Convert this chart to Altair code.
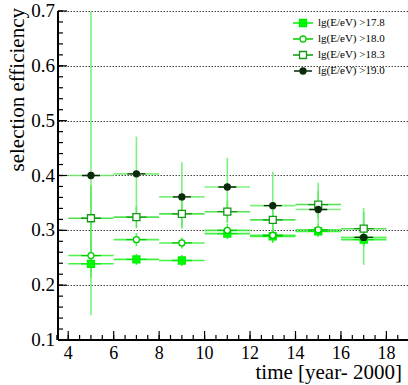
import altair as alt
import pandas as pd

# ---- data ----
years = [5, 7, 9, 11, 13, 15, 17]
half_width = [1, 1, 1, 1, 1, 1, 1]
series_names = ["lg(E/eV) >17.8", "lg(E/eV) >18.0", "lg(E/eV) >18.3", "lg(E/eV) >19.0"]

eff_178 = [0.239, 0.247, 0.245, 0.294, 0.289, 0.298, 0.283]
lo_178 = [0.025, 0.010, 0.010, 0.010, 0.012, 0.010, 0.012]
hi_178 = [0.025, 0.010, 0.010, 0.010, 0.012, 0.010, 0.012]

eff_180 = [0.254, 0.283, 0.277, 0.300, 0.291, 0.301, 0.287]
lo_180 = [0.030, 0.012, 0.010, 0.012, 0.012, 0.010, 0.015]
hi_180 = [0.030, 0.012, 0.010, 0.012, 0.012, 0.010, 0.015]

eff_183 = [0.322, 0.324, 0.330, 0.334, 0.319, 0.347, 0.303]
lo_183 = [0.060, 0.020, 0.025, 0.020, 0.025, 0.025, 0.030]
hi_183 = [0.060, 0.020, 0.025, 0.020, 0.025, 0.025, 0.030]

eff_190 = [0.400, 0.403, 0.361, 0.379, 0.345, 0.338, 0.287]
lo_190 = [0.255, 0.070, 0.058, 0.052, 0.060, 0.050, 0.050]
hi_190 = [0.300, 0.068, 0.063, 0.053, 0.062, 0.049, 0.054]

x_major = [4, 6, 8, 10, 12, 14, 16, 18]
x_labels = ["4", "6", "8", "10", "12", "14", "16", "18"]
x_minor = [3.5 + 0.5 * i for i in range(32)]
y_major = [0.1, 0.2, 0.3, 0.4, 0.5, 0.6, 0.7]
y_labels = ["0.1", "0.2", "0.3", "0.4", "0.5", "0.6", "0.7"]
y_minor = [round(0.1 + 0.02 * i, 2) for i in range(31)]
x_title = "time [year- 2000]"
y_title = "selection efficiency"

rows = []
for name, eff, lo, hi in [
    (series_names[0], eff_178, lo_178, hi_178),
    (series_names[1], eff_180, lo_180, hi_180),
    (series_names[2], eff_183, lo_183, hi_183),
    (series_names[3], eff_190, lo_190, hi_190),
]:
    for x, hw, v, l, h in zip(years, half_width, eff, lo, hi):
        rows.append({"series": name, "bar_series": name + " ", "x": x,
                     "x_lo": x - hw, "x_hi": x + hw,
                     "y": v, "y_lo": max(v - l, 0.1), "y_hi": min(v + h, 0.7)})
df = pd.DataFrame(rows)

W, H = 350, 329
FONT = "Liberation Serif"

bar_names = [n + " " for n in series_names]
line_colors = ["#22ee22", "#33ee33", "#33dd33", "#66ee66"]
stroke_colors = ["#00ee00", "#00cc00", "#119911", "#0a2a0a"]
fill_colors = ["#00ff00", "#ffffff", "#ffffff", "#0a2a0a"]
# symbols (size 100 -> unit = 5px) include a short horizontal line, ROOT-legend style
shapes = [
    "M-2,0H2M-0.7,-0.7H0.7V0.7H-0.7Z",
    "M-2,0H-0.62M0.62,0H2M0.6,0A0.6,0.6,0,1,1,-0.6,0A0.6,0.6,0,1,1,0.6,0Z",
    "M-2,0H-0.7M0.7,0H2M-0.7,-0.7H0.7V0.7H-0.7Z",
    "M-1.8,0H-0.6M0.6,0H1.8M0.6,0A0.6,0.6,0,1,1,-0.6,0A0.6,0.6,0,1,1,0.6,0Z",
]

xscale = alt.Scale(domain=[3.55, 18.95], nice=False, zero=False)
yscale = alt.Scale(domain=[0.1, 0.7], nice=False, zero=False)

base = alt.Chart(df)

color_scale = alt.Scale(domain=bar_names, range=line_colors)

hbars = base.mark_rule(strokeWidth=1.6, opacity=0.85).encode(
    x=alt.X("x_lo:Q", scale=xscale, axis=None),
    x2="x_hi:Q",
    y=alt.Y("y:Q", scale=yscale,
            axis=alt.Axis(title=None, values=y_major, labels=False,
                          ticks=False, domain=False, grid=True,
                          gridColor="#444444", gridDash=[1.5, 1.5], gridWidth=1)),
    color=alt.Color("bar_series:N", scale=color_scale, legend=None),
)

vbars = base.mark_rule(strokeWidth=1.6, opacity=0.85).encode(
    x=alt.X("x:Q", scale=xscale, axis=None),
    y=alt.Y("y_lo:Q", scale=yscale),
    y2="y_hi:Q",
    color=alt.Color("bar_series:N", scale=color_scale, legend=None),
)

leg = alt.Legend(title=None, orient="none", legendX=239, legendY=6, padding=0,
                 symbolSize=100, symbolStrokeWidth=1.3, labelFontSize=11,
                 labelFont=FONT, labelColor="black", labelOffset=9, rowPadding=3)
points = base.mark_point(size=100, filled=False, strokeWidth=1.3, opacity=1).encode(
    x=alt.X("x:Q", scale=xscale, axis=None),
    y=alt.Y("y:Q", scale=yscale),
    shape=alt.Shape("series:N", scale=alt.Scale(domain=series_names, range=shapes),
                    legend=leg),
    stroke=alt.Stroke("series:N", scale=alt.Scale(domain=series_names, range=stroke_colors),
                      legend=leg),
    fill=alt.Fill("series:N", scale=alt.Scale(domain=series_names, range=fill_colors),
                  legend=leg),
)

xt_major = pd.DataFrame({"t": x_major, "lab": x_labels})
xt_minor = pd.DataFrame({"t": x_minor})
yt_major = pd.DataFrame({"t": y_major, "lab": y_labels})
yt_minor = pd.DataFrame({"t": y_minor})

xmaj = alt.Chart(xt_major).mark_rule(color="black", strokeWidth=1.2).encode(
    x=alt.X("t:Q", scale=xscale, axis=None), y=alt.value(H), y2=alt.value(H - 9))
xmin = alt.Chart(xt_minor).mark_rule(color="black", strokeWidth=1.2).encode(
    x=alt.X("t:Q", scale=xscale, axis=None), y=alt.value(H), y2=alt.value(H - 5))
ymaj = alt.Chart(yt_major).mark_rule(color="black", strokeWidth=1.2).encode(
    y=alt.Y("t:Q", scale=yscale), x=alt.value(0), x2=alt.value(9))
ymin = alt.Chart(yt_minor).mark_rule(color="black", strokeWidth=1.2).encode(
    y=alt.Y("t:Q", scale=yscale), x=alt.value(0), x2=alt.value(5))
xaxis_line = alt.Chart(xt_major).mark_rule(color="black", strokeWidth=1.5).encode(
    x=alt.value(0), x2=alt.value(W), y=alt.value(H))
yaxis_line = alt.Chart(xt_major).mark_rule(color="black", strokeWidth=1.5).encode(
    x=alt.value(0), y=alt.value(0), y2=alt.value(H))

xlab = alt.Chart(xt_major).mark_text(
    font=FONT, fontSize=18, color="black", align="center", baseline="top", dy=5
).encode(x=alt.X("t:Q", scale=xscale, axis=None), y=alt.value(H), text="lab:N")
ylab = alt.Chart(yt_major).mark_text(
    font=FONT, fontSize=19, color="black", align="right", baseline="middle", dx=-3
).encode(y=alt.Y("t:Q", scale=yscale), x=alt.value(0), text="lab:N")
xtit = alt.Chart(pd.DataFrame({"lab": [x_title]})).mark_text(
    font=FONT, fontSize=21, color="black", align="right", baseline="alphabetic"
).encode(x=alt.value(W - 6), y=alt.value(H + 39), text="lab:N")
ytit = alt.Chart(pd.DataFrame({"lab": [y_title]})).mark_text(
    font=FONT, fontSize=21, color="black", align="right", baseline="middle", angle=270
).encode(x=alt.value(-40), y=alt.value(-3), text="lab:N")

chart = alt.layer(
    hbars, vbars, points, xmaj, xmin, ymaj, ymin, xaxis_line, yaxis_line,
    xlab, ylab, xtit, ytit
).properties(
    width=W, height=H,
    background="white",
    autosize=alt.AutoSizeParams(type="none"),
    padding={"left": 58, "top": 11, "right": 0, "bottom": 45},
).configure(
    font=FONT
).configure_view(
    stroke=None, clip=False
).configure_legend(
    labelFont=FONT, symbolOpacity=1
)

chart.save("out.html", embed_options={"renderer": "svg", "actions": False})
